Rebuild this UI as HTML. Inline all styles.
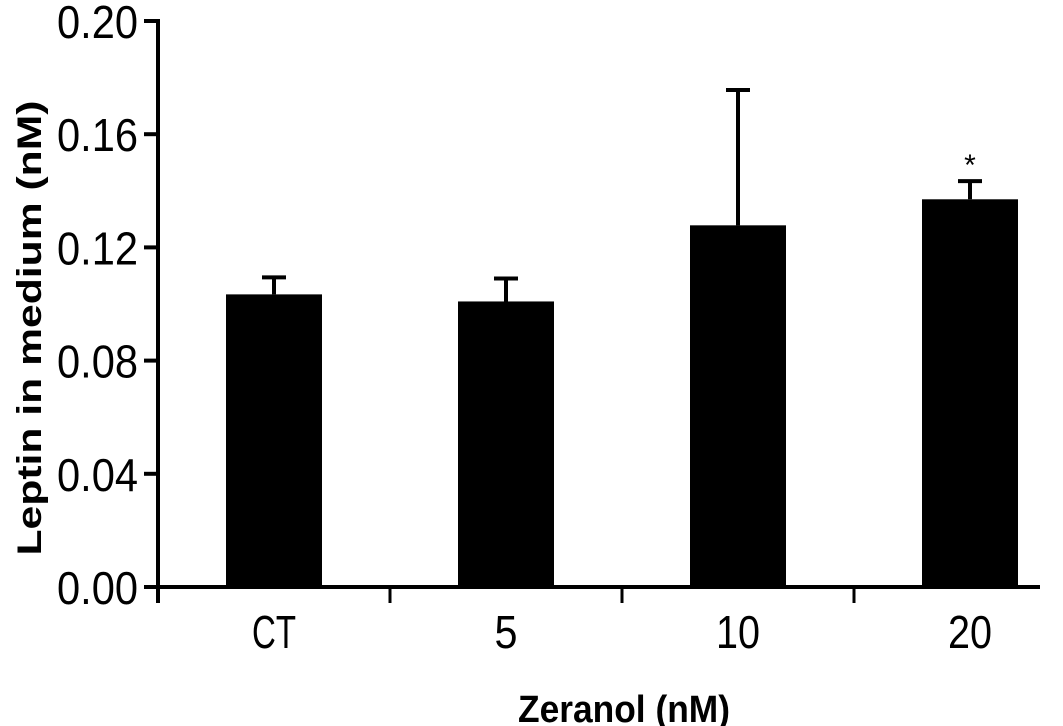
<!DOCTYPE html>
<html><head><meta charset="utf-8"><style>
html,body{margin:0;padding:0;background:#fff;}
svg{display:block;font-family:"Liberation Sans",Arial,sans-serif;}
</style></head><body>
<svg id="chart" width="1063" height="726"></svg>
<script>
const categories = ["CT","5","10","20"];
const values = [0.1034,0.1009,0.1278,0.137];
const errors = [0.006,0.0081,0.0478,0.0064];
const significant = [false,false,false,true];
const yTicks = [0,0.04,0.08,0.12,0.16,0.2];
const yTickLabels = ["0.00","0.04","0.08","0.12","0.16","0.20"];

const NS="http://www.w3.org/2000/svg";
const svg=document.getElementById('chart');
const x0=158, x1=1040, y0=587, yTop=21, band=232, barW=96;
function yScale(v){return y0-(v/0.2)*(y0-yTop);}
function xCenter(i){return x0+band*(i+0.5);}
function mk(tag,attrs,parent){const e=document.createElementNS(NS,tag);for(const k in attrs)e.setAttribute(k,attrs[k]);(parent||svg).appendChild(e);return e;}

categories.forEach((c,i)=>{
  const b=mk('rect',{x:xCenter(i)-barW/2,y:yScale(values[i]),width:barW,height:y0-yScale(values[i]),fill:'#000'});
  
  
  const top=yScale(values[i]+errors[i]);
  const el=mk('path',{d:`M${xCenter(i)} ${yScale(values[i])} V${top} M${xCenter(i)-12} ${top} H${xCenter(i)+12}`,stroke:'#000','stroke-width':4,fill:'none'});
  
  
  if(significant[i]){
    const s=mk('text',{x:xCenter(i),y:top-6,'text-anchor':'middle','font-size':30});
    s.textContent='*';
    
    
  }
  const t=mk('text',{x:xCenter(i),y:648,'text-anchor':'middle','font-size':46,textLength:(c.length*21+2),lengthAdjust:'spacingAndGlyphs'});
  t.textContent=c;
  
  
  const tk=mk('line',{x1:x0+band*(i+1),x2:x0+band*(i+1),y1:y0,y2:y0+16,stroke:'#000','stroke-width':3});
  
  
});
const ya=mk('line',{x1:x0,x2:x0,y1:yTop-2,y2:y0+16,stroke:'#000','stroke-width':4});


const xa=mk('line',{x1:x0-14,x2:x1,y1:y0,y2:y0,stroke:'#000','stroke-width':4});


yTicks.forEach((v,i)=>{
  const tk=mk('line',{x1:x0-14,x2:x0,y1:yScale(v),y2:yScale(v),stroke:'#000','stroke-width':4});
  
  
  const t=mk('text',{x:138,y:yScale(v)+17,'text-anchor':'end','font-size':46,textLength:81,lengthAdjust:'spacingAndGlyphs'});
  t.textContent=yTickLabels[i];
  
  
});
const yl=mk('text',{x:0,y:0,transform:'translate(41,328) rotate(-90)','text-anchor':'middle','font-size':34,'font-weight':'bold',textLength:455,lengthAdjust:'spacingAndGlyphs'});
yl.textContent='Leptin in medium (nM)';


const xl=mk('text',{x:624,y:722,'text-anchor':'middle','font-size':38,'font-weight':'bold',textLength:212,lengthAdjust:'spacingAndGlyphs'});
xl.textContent='Zeranol (nM)';


</script>
</body></html>
